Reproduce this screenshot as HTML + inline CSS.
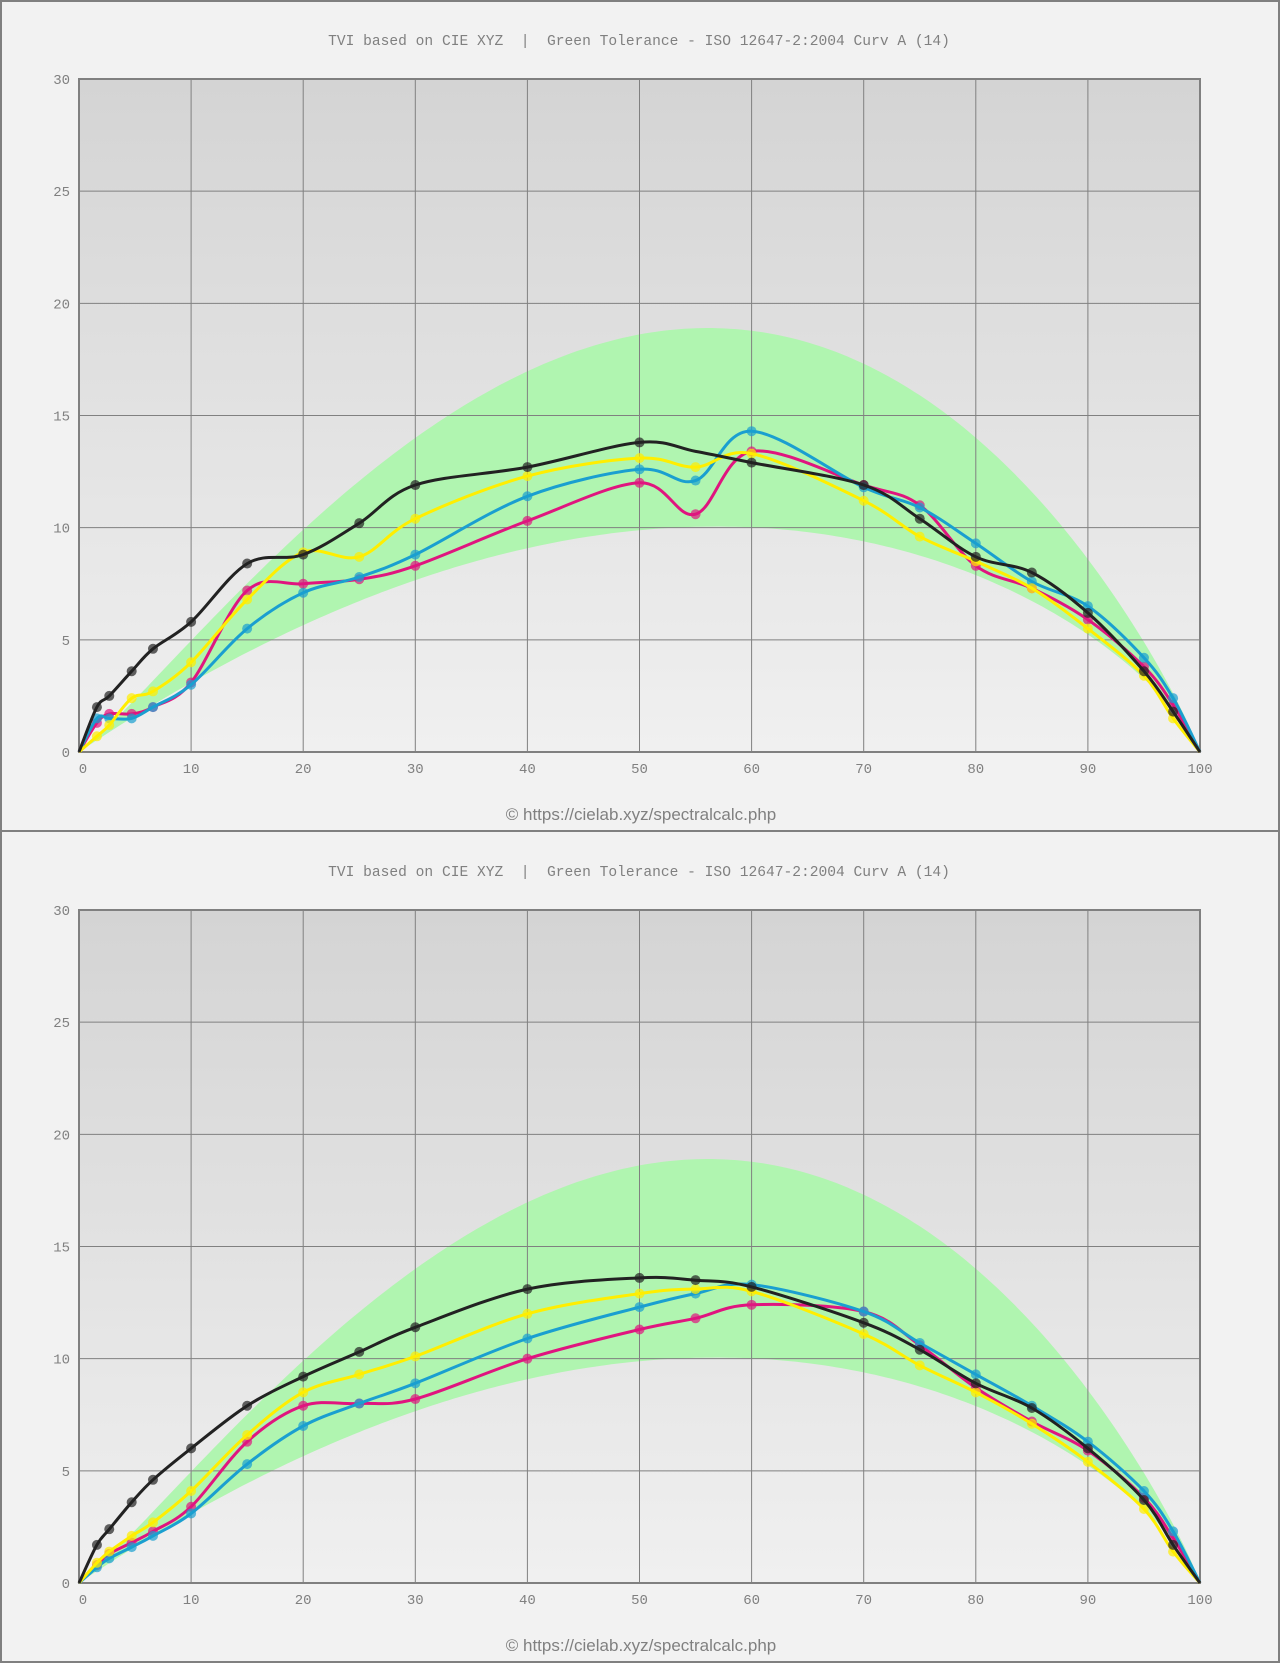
<!DOCTYPE html>
<html><head><meta charset="utf-8"><style>
html,body{margin:0;padding:0;background:#f2f2f2;width:1280px;height:1663px;overflow:hidden}
svg{display:block}
</style></head><body>
<svg id="s" width="1280" height="1663" xmlns="http://www.w3.org/2000/svg"></svg>
<script>
const S=document.getElementById('s');
const X=[0,1.6,2.7,4.7,6.6,10,15,20,25,30,40,50,55,60,70,75,80,85,90,95,97.6,100];
const panels=[
 {k:{black:[0,2.0,2.5,3.6,4.6,5.8,8.4,8.8,10.2,11.9,12.7,13.8,13.4,12.9,11.9,10.4,8.7,8.0,6.2,3.6,1.8,0],
   yellow:[0,0.7,1.2,2.4,2.7,4.0,6.8,8.9,8.7,10.4,12.3,13.1,12.7,13.3,11.2,9.6,8.5,7.3,5.5,3.4,1.5,0],
   cyan:[0,1.5,1.5,1.5,2.0,3.0,5.5,7.1,7.8,8.8,11.4,12.6,12.1,14.3,11.8,10.9,9.3,7.6,6.5,4.2,2.4,0],
   mag:[0,1.3,1.7,1.7,2.0,3.1,7.2,7.5,7.7,8.3,10.3,12.0,10.6,13.4,11.9,11.0,8.3,7.3,5.9,3.8,2.1,0]},skip55:true},
 {k:{black:[0,1.7,2.4,3.6,4.6,6.0,7.9,9.2,10.3,11.4,13.1,13.6,13.5,13.2,11.6,10.4,8.9,7.8,6.0,3.7,1.7,0],
   yellow:[0,0.9,1.4,2.1,2.7,4.1,6.6,8.5,9.3,10.1,12.0,12.9,13.1,13.0,11.1,9.7,8.5,7.1,5.4,3.3,1.4,0],
   cyan:[0,0.7,1.1,1.6,2.1,3.1,5.3,7.0,8.0,8.9,10.9,12.3,12.9,13.3,12.1,10.7,9.3,7.9,6.3,4.1,2.3,0],
   mag:[0,0.8,1.3,1.8,2.3,3.4,6.3,7.9,8.0,8.2,10.0,11.3,11.8,12.4,12.1,10.6,8.7,7.2,5.9,3.8,2.0,0]}}
];
const col={mag:'#e0157f',cyan:'#1a9fd0',yellow:'#ffee00',black:'#222222'};
function band(peak,a,b){const xm=100*a/(a+b);const m=Math.pow(xm,a)*Math.pow(100-xm,b);return x=>peak*Math.pow(x,a)*Math.pow(100-x,b)/m;}
const fu=band(18.9,1.15,0.9), fl=band(10.05,1,0.76);
function cr(pts){let d='M'+pts[0][0]+','+pts[0][1];for(let i=0;i<pts.length-1;i++){const p0=pts[i-1]||pts[i],p1=pts[i],p2=pts[i+1],p3=pts[i+2]||p2;
d+=' C'+(p1[0]+(p2[0]-p0[0])/6).toFixed(1)+','+(p1[1]+(p2[1]-p0[1])/6).toFixed(1)+' '+(p2[0]-(p3[0]-p1[0])/6).toFixed(1)+','+(p2[1]-(p3[1]-p1[1])/6).toFixed(1)+' '+p2[0].toFixed(1)+','+p2[1].toFixed(1);}return d;}
let h='<defs><linearGradient id="g" x1="0" y1="0" x2="0" y2="1"><stop offset="0" stop-color="#d4d4d4"/><stop offset="1" stop-color="#f0f0f0"/></linearGradient></defs>';
h+='<rect x="1" y="1" width="1278" height="1661" fill="#f2f2f2" stroke="#808080" stroke-width="2"/>';
h+='<rect x="0" y="830" width="1280" height="2" fill="#808080"/>';
panels.forEach((P,pi)=>{
 const oy=pi*831, L=79,T=79+oy,W=1121,H=673;
 const px=v=>L+v*W/100, py=v=>T+H-v*H/30;
 h+=`<text x="639" y="45" transform="translate(0,${oy})" text-anchor="middle" font-family="Liberation Mono,monospace" font-size="14.6" fill="#808080" style="white-space:pre" xml:space="preserve">TVI based on CIE XYZ  |  Green Tolerance - ISO 12647-2:2004 Curv A (14)</text>`;
 h+=`<rect x="${L}" y="${T}" width="${W}" height="${H}" fill="url(#g)"/>`;
 let d='';for(let x=0;x<=100;x+=0.5)d+=(x?'L':'M')+px(x).toFixed(1)+','+py(fu(x)).toFixed(1);
 for(let x=100;x>=0;x-=0.5)d+='L'+px(x).toFixed(1)+','+py(fl(x)).toFixed(1);
 h+=`<path d="${d}Z" fill="#b0f5b0"/>`;
 for(let i=1;i<10;i++){h+=`<line x1="${px(i*10)}" y1="${T}" x2="${px(i*10)}" y2="${T+H}" stroke="#808080" stroke-width="1"/>`;}
 for(let j=1;j<6;j++){h+=`<line x1="${L}" y1="${py(j*5)}" x2="${L+W}" y2="${py(j*5)}" stroke="#808080" stroke-width="1"/>`;}
 h+=`<rect x="${L}" y="${T}" width="${W}" height="${H}" fill="none" stroke="#808080" stroke-width="2"/>`;
 for(let j=0;j<=6;j++)h+=`<text x="70" y="${py(j*5)+5}" text-anchor="end" font-family="Liberation Mono,monospace" font-size="14" fill="#808080">${j*5}</text>`;
 for(let i=0;i<=10;i++)h+=`<text x="${px(i*10)+(i==0?4:0)}" y="${T+H+21}" text-anchor="middle" font-family="Liberation Mono,monospace" font-size="14" fill="#808080">${i*10}</text>`;
 ['mag','cyan','yellow','black'].forEach(k=>{
  const pts=X.map((x,i)=>[px(x),py(P.k[k][i])]);
  h+=`<path d="${cr(pts)}" fill="none" stroke="${col[k]}" stroke-width="3"/>`;
  pts.forEach((p,i)=>{if(i==0||i==21)return;if(P.skip55&&k=='black'&&i==12)return;h+=`<circle cx="${p[0]}" cy="${p[1]}" r="5" fill="${col[k]}" fill-opacity="0.7"/>`;});
 });
 h+=`<text x="641" y="${820+oy}" text-anchor="middle" font-family="Liberation Sans,sans-serif" font-size="17" fill="#808080">© https://cielab.xyz/spectralcalc.php</text>`;
});
S.innerHTML=h;
</script>
</body></html>
